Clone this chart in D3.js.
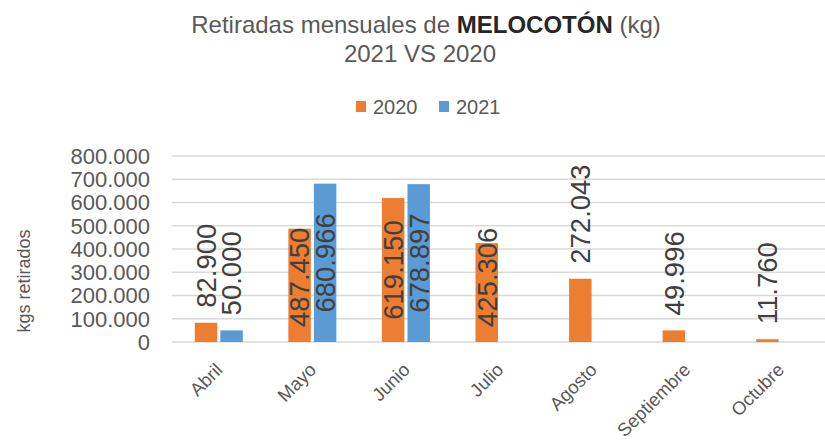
<!DOCTYPE html>
<html>
<head>
<meta charset="utf-8">
<script src="https://cdn.jsdelivr.net/npm/d3@7"></script>
<style>
  body { margin: 0; background: #fff; }
  svg { font-family: "Liberation Sans", Arial, sans-serif; }
</style>
</head>
<body>
<svg id="chart" width="825" height="440"></svg>
<script>
const months = ["Abril", "Mayo", "Junio", "Julio", "Agosto", "Septiembre", "Octubre"];
const years = ["2020", "2021"];
const values2020 = [82900, 487450, 619150, 425306, 272043, 49996, 11760];
const values2021 = [50000, 680966, 678897, null, null, null, null];
const yTicks = [0, 100000, 200000, 300000, 400000, 500000, 600000, 700000, 800000];

const colors = { "2020": "#ED7D31", "2021": "#5B9BD5" };
const textColor = "#595959";

const plot = { left: 172, right: 827, top: 156, bottom: 342 };

const svg = d3.select("#chart");

const locale = d3.formatLocale({ decimal: ",", thousands: ".", grouping: [3], currency: ["", "€"] });
const fmt = locale.format(",");

const x0 = d3.scaleBand()
  .domain(months)
  .range([plot.left, plot.right])
  .paddingInner(0.487)
  .paddingOuter(0.2435);

const x1 = d3.scaleBand()
  .domain(years)
  .range([0, x0.bandwidth()])
  .paddingInner(0.12);

const y = d3.scaleLinear()
  .domain([0, 800000])
  .range([plot.bottom, plot.top]);

// gridlines
svg.append("g")
  .selectAll("line")
  .data(yTicks)
  .join("line")
  .attr("x1", plot.left)
  .attr("x2", 825)
  .attr("y1", (d) => y(d))
  .attr("y2", (d) => y(d))
  .attr("stroke", "#d9d9d9")
  .attr("stroke-width", 1.5);

// y tick labels
svg.append("g")
  .selectAll("text")
  .data(yTicks)
  .join("text")
  .attr("x", 150)
  .attr("y", (d) => y(d))
  .attr("dy", "0.36em")
  .attr("text-anchor", "end")
  .attr("font-size", 22)
  .attr("fill", textColor)
  .text((d) => fmt(d));

// y axis title
svg.append("text")
  .attr("transform", "translate(30,281) rotate(-90)")
  .attr("text-anchor", "middle")
  .attr("font-size", 18)
  .attr("fill", textColor)
  .text("kgs retirados");

// bars
const rows = months.map((m, i) => ({
  month: m,
  series: [
    { year: "2020", value: values2020[i] },
    { year: "2021", value: values2021[i] },
  ].filter((s) => s.value != null),
}));

const groups = svg.append("g")
  .selectAll("g")
  .data(rows)
  .join("g")
  .attr("transform", (d) => `translate(${x0(d.month)},0)`);

groups.selectAll("rect")
  .data((d) => d.series)
  .join("rect")
  .attr("x", (d) => x1(d.year))
  .attr("y", (d) => y(d.value))
  .attr("width", x1.bandwidth())
  .attr("height", (d) => y(0) - y(d.value))
  .attr("fill", (d) => colors[d.year]);

// data labels, rotated; pushed into the bar when they would leave the plot
groups.selectAll("text")
  .data((d) => d.series)
  .join("text")
  .attr("text-anchor", "start")
  .attr("dy", "0.36em")
  .attr("font-size", 27.5)
  .attr("fill", "#404040")
  .text((d) => fmt(d.value))
  .attr("transform", function (d) {
    const len = this.getComputedTextLength();
    const top = y(d.value);
    let bottom = top - 15;
    if (bottom - len < plot.top) {
      bottom = Math.min((top + y(0)) / 2 + len / 2, y(0) - 15);
    }
    const cx = x1(d.year) + x1.bandwidth() / 2;
    return `translate(${cx},${bottom}) rotate(-90)`;
  });

// month labels
svg.append("g")
  .selectAll("text")
  .data(months)
  .join("text")
  .attr("transform", (d) => `translate(${x0(d) + x0.bandwidth() / 2 + 5},371) rotate(-45)`)
  .attr("text-anchor", "end")
  .attr("font-size", 18.5)
  .attr("fill", textColor)
  .text((d) => d);

// title
const title = svg.append("text")
  .attr("x", 426)
  .attr("y", 33)
  .attr("text-anchor", "middle")
  .attr("font-size", 24)
  .attr("fill", textColor);
title.append("tspan").text("Retiradas mensuales de ");
title.append("tspan").attr("font-weight", "bold").attr("fill", "#262626").text("MELOCOTÓN");
title.append("tspan").text(" (kg)");

svg.append("text")
  .attr("x", 420)
  .attr("y", 62)
  .attr("text-anchor", "middle")
  .attr("font-size", 24)
  .attr("fill", textColor)
  .text("2021 VS 2020");

// legend
const legend = svg.append("g");
const legendX = d3.scaleOrdinal().domain(years).range([356, 439]);

legend.selectAll("rect")
  .data(years)
  .join("rect")
  .attr("x", (d) => legendX(d))
  .attr("y", 101)
  .attr("width", 10)
  .attr("height", 11)
  .attr("fill", (d) => colors[d]);

legend.selectAll("text")
  .data(years)
  .join("text")
  .attr("x", (d) => legendX(d) + 17)
  .attr("y", 114)
  .attr("font-size", 20)
  .attr("fill", textColor)
  .text((d) => d);
</script>
</body>
</html>
